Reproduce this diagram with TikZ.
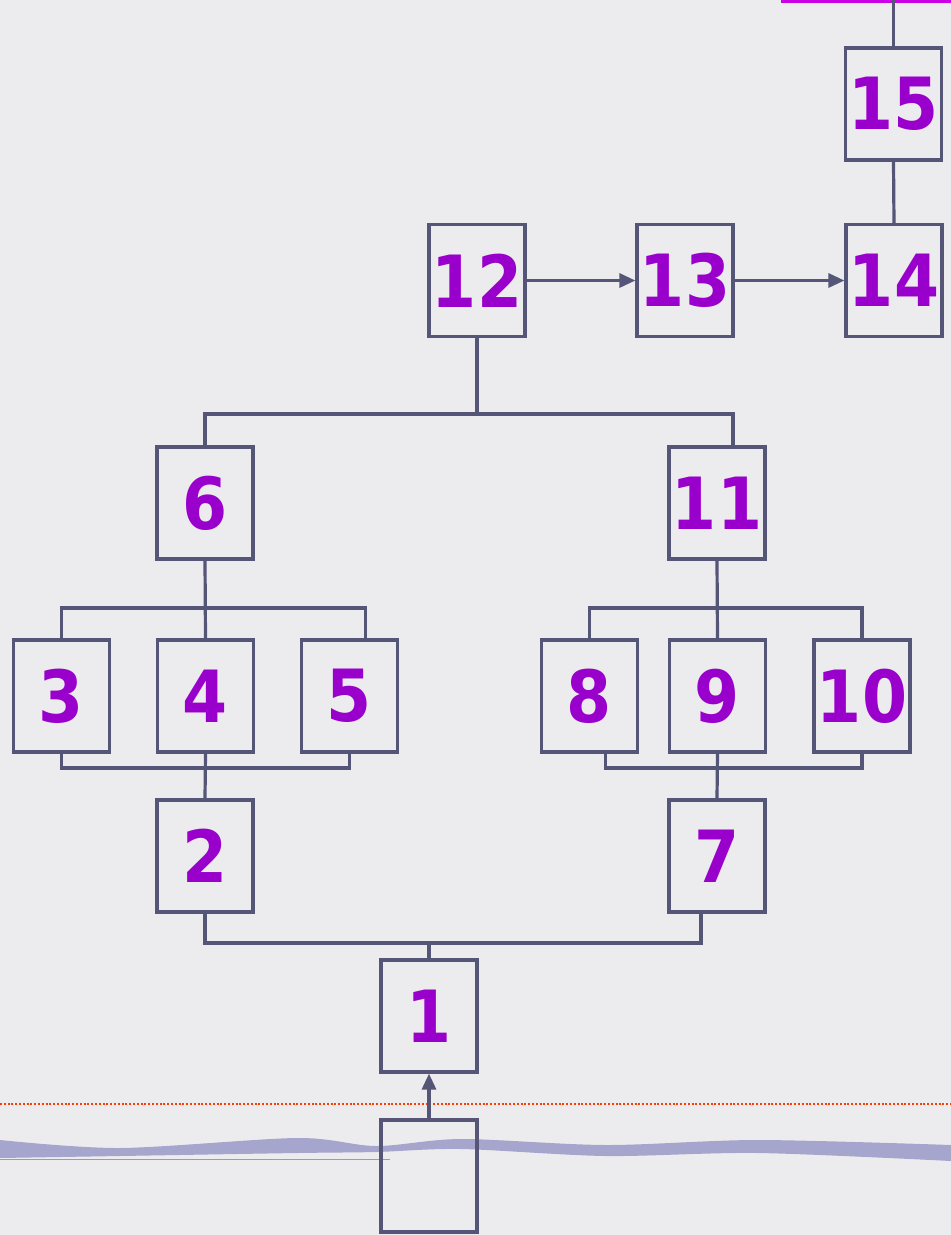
\documentclass[tikz,border=0pt]{standalone}
\usepackage{fontspec}
\newfontfamily\digitfont{DejaVu Sans}[FakeStretch=0.9]
\usetikzlibrary{arrows.meta}
\definecolor{bgpaper}{RGB}{236,236,238}
\definecolor{boxline}{RGB}{85,85,120}
\definecolor{numcol}{RGB}{153,0,204}
\definecolor{topbar}{RGB}{204,0,230}
\definecolor{reddot}{RGB}{255,60,0}
\definecolor{wavecol}{RGB}{165,165,205}
\definecolor{olive}{RGB}{160,160,130}
\tikzset{
  numbox/.style={draw=boxline, line width=3.2pt, minimum width=96pt, minimum height=112pt,
    inner sep=0pt, text=numcol, font=\digitfont\bfseries\fontsize{72}{80}\selectfont},
  conn/.style={draw=boxline, line width=3.2pt},
  arr/.style={conn, -{Triangle[length=16pt,width=14pt]}},
}
\begin{document}
\begin{tikzpicture}[x=1pt,y=-1pt]
\useasboundingbox (0,0) rectangle (951,1235);
\fill[bgpaper] (0,0) rectangle (951,1235);
% decorative elements
\fill[wavecol] plot[smooth] coordinates {(0,1140) (120,1148) (297,1138) (376,1146) (461,1139) (606,1145) (758,1140) (951,1145)}
  -- plot[smooth] coordinates {(951,1161) (758,1153) (606,1156) (461,1149) (376,1152) (297,1153) (120,1156) (0,1158)} -- cycle;
\draw[olive, line width=1pt] (0,1159) -- (390,1159);
\draw[reddot, line width=2.5pt, dash pattern=on 2pt off 1.8pt] (0,1104) -- (951,1104);
\draw[topbar, line width=3.5pt] (781,1) -- (951,1);
% boxes
\node[numbox] (b15) at (893.5,104) {15};
\node[numbox] (b14) at (894,280.5) {14};
\node[numbox] (b13) at (685,280.5) {13};
\node[numbox] (b12) at (477,280.5) {12};
\node[numbox] (b6) at (205,503) {6};
\node[numbox] (b11) at (717,503) {11};
\node[numbox] (b3) at (61.5,696) {3};
\node[numbox] (b4) at (205.5,696) {4};
\node[numbox] (b5) at (349.5,696) {5};
\node[numbox] (b8) at (589.5,696) {8};
\node[numbox] (b9) at (717.5,696) {9};
\node[numbox] (b10) at (862,696) {10};
\node[numbox] (b2) at (205,856) {2};
\node[numbox] (b7) at (717,856) {7};
\node[numbox] (b1) at (429,1016) {1};
\node[numbox] (b0) at (429,1176) {};
% junctions
\coordinate (top15) at (893.5,0);
\coordinate (j12) at (477,414);
\coordinate (j6) at (205,608);
\coordinate (j2) at (205,768);
\coordinate (j11) at (717,608);
\coordinate (j7) at (717,768);
\coordinate (j1) at (429,943);
% connectors
\draw[conn] (b15.north) -- (top15);
\draw[conn] (b15.south) -- (b14.north);
\draw[arr] (b12.east) -- (b13.west);
\draw[arr] (b13.east) -- (b14.west);
\draw[conn] (b12.south) -- (j12);
\draw[conn] (b6.north) |- (j12) -| ([xshift=16pt]b11.north);
\draw[conn] (b6.south) -- (b4.north);
\draw[conn] (b3.north) |- (j6) -| ([xshift=16pt]b5.north);
\draw[conn] (b3.south) |- (j2) -| (b5.south);
\draw[conn] (b4.south) -- (b2.north);
\draw[conn] (b11.south) -- (b9.north);
\draw[conn] (b8.north) |- (j11) -| (b10.north);
\draw[conn] ([xshift=16pt]b8.south) |- (j7) -| (b10.south);
\draw[conn] (b9.south) -- (b7.north);
\draw[conn] (b2.south) |- (j1) -| ([xshift=-16pt]b7.south);
\draw[conn] (j1) -- (b1.north);
\draw[arr] (b0.north) -- (b1.south);
\end{tikzpicture}
\end{document}
